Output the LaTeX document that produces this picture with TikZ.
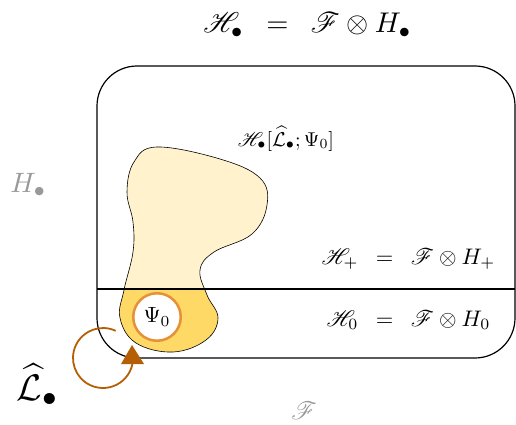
\documentclass[tikz,border=0pt]{standalone}
\usepackage{amsmath,amssymb}
\usepackage{mathrsfs}
\usepackage{graphicx}
\definecolor{lightyel}{HTML}{FFF2CC}
\definecolor{darkyel}{HTML}{FFD966}
\definecolor{psiorange}{HTML}{E69138}
\definecolor{loopbrown}{HTML}{B45F06}
\definecolor{fadegray}{HTML}{999999}
\tikzset{
  lbl/.style={inner sep=0pt, anchor=base},
  boxline/.style={line width=1.2pt},
}
\newcommand{\eqgap}{\hspace{5pt}=\hspace{5pt}}
\begin{document}
\begin{tikzpicture}[x=1pt,y=-1pt]
\useasboundingbox (0,0) rectangle (516,425);
% blob
\def\blob{plot[smooth cycle, tension=0.65] coordinates {(157,147) (220,159) (260,178) (267,205) (252,234) (214,252) (200,270) (207,295) (218,318) (206,340) (173,352) (136,343) (120,318) (124,290) (133,252) (133,222) (127,192) (134,162)}}
\fill[lightyel] \blob;
\begin{scope}
  \clip \blob;
  \fill[darkyel] (90,289) rectangle (300,400);
\end{scope}
\draw[line width=0.6pt] \blob;
% box
\draw[boxline, rounded corners=40pt] (97,66) rectangle (515,358);
\draw[boxline] (97,289) -- (515,289);
% Psi circle
\node[circle, draw=psiorange, line width=2.5pt, fill=white, minimum size=47.5pt, inner sep=0pt] (psi) at (157,317) {\scalebox{2.2}{$\Psi_0$}};
% loop arrow
\coordinate (lc) at (103,358);
\draw[loopbrown, line width=1.8pt] (lc) ++(-65:30) arc[start angle=-65, end angle=-350, radius=30];
\fill[loopbrown] (121,364) -- (144,364) -- (132,345) -- cycle;
% labels
\node[lbl] (top) at (307.5,33) {\scalebox{2.85}{$\mathscr{H}_\bullet \eqgap \mathscr{F}\otimes H_\bullet$}};
\node[lbl] (hl) at (286,146) {\scalebox{2.0}{$\mathscr{H}_\bullet[\widehat{\mathcal{L}}_\bullet;\Psi_0]$}};
\node[lbl] (hp) at (408.5,264) {\scalebox{2.25}{$\mathscr{H}_+ \eqgap \mathscr{F}\otimes H_+$}};
\node[lbl] (hz) at (408.5,326) {\scalebox{2.25}{$\mathscr{H}_0 \eqgap \mathscr{F}\otimes H_0$}};
\node[lbl, text=fadegray] (hg) at (28.5,192) {\scalebox{2.8}{$H_\bullet$}};
\node[lbl] (lh) at (37.5,400) {\scalebox{3.7}{$\widehat{\mathcal{L}}_\bullet$}};
\node[lbl, text=fadegray] (fg) at (304,419) {\scalebox{2.5}{$\mathscr{F}$}};
\end{tikzpicture}
\end{document}
